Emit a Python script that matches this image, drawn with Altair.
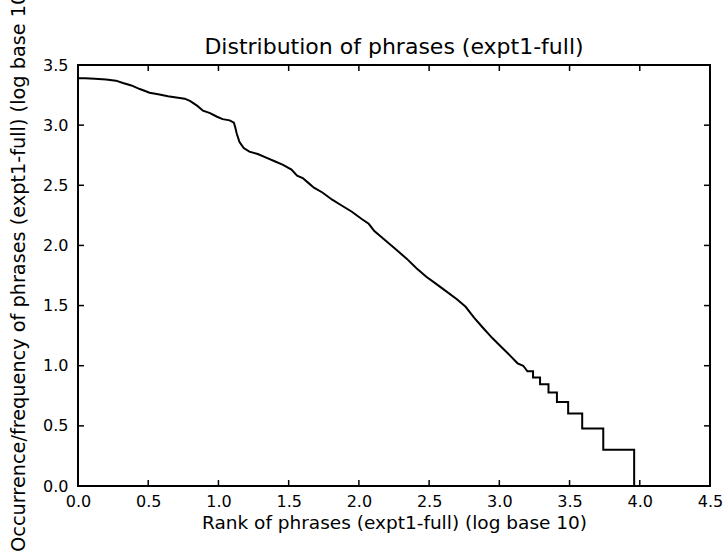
import altair as alt
import pandas as pd

# Curve (log10 rank vs log10 frequency)
rank_log = [0.00, 0.05, 0.12, 0.20, 0.27, 0.32, 0.38, 0.44, 0.51, 0.58, 0.64, 0.70,
            0.76, 0.80, 0.85, 0.89, 0.94, 0.99, 1.03, 1.08, 1.11, 1.12, 1.13, 1.15,
            1.18, 1.22, 1.28, 1.34, 1.40, 1.46, 1.52, 1.56, 1.60, 1.64, 1.68, 1.74,
            1.81, 1.88, 1.95, 2.02, 2.07, 2.11, 2.16, 2.25, 2.34, 2.41, 2.48, 2.55,
            2.62, 2.70, 2.76, 2.82, 2.88, 2.95, 3.02, 3.08, 3.13, 3.17, 3.20, 3.24,
            3.24, 3.29, 3.29, 3.35, 3.35, 3.41, 3.41, 3.49, 3.49, 3.59, 3.59, 3.74,
            3.74, 3.96, 3.96]
freq_log = [3.39, 3.39, 3.385, 3.38, 3.37, 3.35, 3.33, 3.30, 3.27, 3.255, 3.24, 3.23,
            3.22, 3.20, 3.16, 3.12, 3.10, 3.07, 3.05, 3.04, 3.02, 2.98, 2.93, 2.86,
            2.81, 2.78, 2.76, 2.73, 2.70, 2.67, 2.63, 2.58, 2.56, 2.52, 2.48, 2.44,
            2.38, 2.33, 2.28, 2.22, 2.18, 2.12, 2.07, 1.98, 1.89, 1.81, 1.74, 1.68,
            1.62, 1.55, 1.49, 1.40, 1.32, 1.23, 1.15, 1.08, 1.02, 1.00, 0.954, 0.954,
            0.903, 0.903, 0.845, 0.845, 0.778, 0.778, 0.699, 0.699, 0.602, 0.602, 0.477, 0.477,
            0.301, 0.301, 0.0]

x_ticks = [0.0, 0.5, 1.0, 1.5, 2.0, 2.5, 3.0, 3.5, 4.0, 4.5]
y_ticks = [0.0, 0.5, 1.0, 1.5, 2.0, 2.5, 3.0, 3.5]

W, H = 632, 421
TK = 6
FONT = "DejaVu Sans"

df = pd.DataFrame({"rank": rank_log, "freq": freq_log, "order": list(range(len(rank_log)))})
xt = pd.DataFrame({"rank": x_ticks})
yt = pd.DataFrame({"freq": y_ticks})

xs = alt.Scale(domain=[0, 4.5], nice=False, zero=False)
ys = alt.Scale(domain=[0, 3.5], nice=False, zero=False)

x_axis = alt.Axis(values=x_ticks, format=".1f", tickSize=0, labelPadding=7,
                  domain=False, grid=False, labelFontSize=16, titleFontSize=18.5,
                  titleFontWeight="normal", titlePadding=4, labelColor="black",
                  titleColor="black", labelFont=FONT, titleFont=FONT,
                  labelFlush=False, labelOverlap=False,
                  title="Rank of phrases (expt1-full) (log base 10)")
y_axis = alt.Axis(values=y_ticks, format=".1f", tickSize=0, labelPadding=10,
                  domain=False, grid=False, labelFontSize=16, titleFontSize=19.3,
                  titleFontWeight="normal", titlePadding=14, titleY=203,
                  labelColor="black", titleColor="black", labelFont=FONT, titleFont=FONT,
                  labelFlush=False, labelOverlap=False,
                  title="Occurrence/frequency of phrases (expt1-full) (log base 10)")

line = alt.Chart(df).mark_line(color="black", strokeWidth=2, clip=True).encode(
    x=alt.X("rank:Q", scale=xs, axis=x_axis),
    y=alt.Y("freq:Q", scale=ys, axis=y_axis),
    order="order:Q",
)

tick_style = dict(color="black", strokeWidth=1.5)
bottom = alt.Chart(xt).mark_rule(**tick_style).encode(
    x=alt.X("rank:Q", scale=xs, axis=x_axis), y=alt.value(H), y2=alt.value(H - TK))
top = alt.Chart(xt).mark_rule(**tick_style).encode(
    x=alt.X("rank:Q", scale=xs, axis=x_axis), y=alt.value(0), y2=alt.value(TK))
left = alt.Chart(yt).mark_rule(**tick_style).encode(
    y=alt.Y("freq:Q", scale=ys, axis=y_axis), x=alt.value(0), x2=alt.value(TK))
right = alt.Chart(yt).mark_rule(**tick_style).encode(
    y=alt.Y("freq:Q", scale=ys, axis=y_axis), x=alt.value(W), x2=alt.value(W - TK))

chart = alt.layer(line, bottom, top, left, right).properties(
    width=W, height=H,
    title=alt.TitleParams("Distribution of phrases (expt1-full)", fontSize=22, font=FONT,
                          fontWeight="normal", color="black", offset=6, dy=80),
    autosize=alt.AutoSizeParams(type="none"),
    padding={"left": 78, "top": 65, "right": 17, "bottom": 66},
    background="white",
).configure_view(stroke="black", strokeWidth=2)

chart.save("out.html", embed_options={"renderer": "svg", "actions": False})
